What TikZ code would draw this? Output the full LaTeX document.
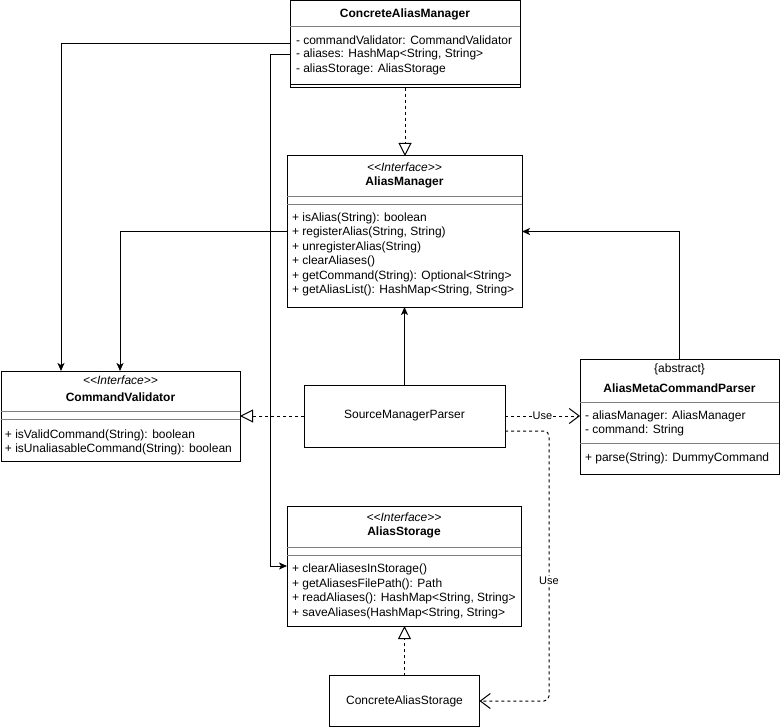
\documentclass[tikz,border=0pt]{standalone}
\usepackage{fontspec}
\setmainfont{Liberation Sans}
\usetikzlibrary{arrows.meta}
\begin{document}
\begin{tikzpicture}[x=1pt,y=-1pt,
 every node/.style={font=\fontsize{12}{14}\selectfont, inner sep=0pt, outer sep=0pt},
 cls/.style={draw, line width=1pt, fill=white, inner sep=0pt, outer sep=0pt},
 div/.style={draw=gray, line width=1pt},
 mem/.style={anchor=west},
 ttl/.style={font=\fontsize{12}{14}\selectfont\bfseries},
 ster/.style={font=\fontsize{12}{14}\selectfont\itshape},
 assoc/.style={draw, line width=1pt, -{Stealth[length=8pt,width=7pt,inset=2pt]}},
 real/.style={draw, line width=1pt, dash pattern=on 3pt off 3pt, -{Triangle[open,length=13pt,width=13pt]}},
 dep/.style={draw, line width=1pt, dash pattern=on 3pt off 3pt, -{Straight Barb[length=10pt,width=15pt]}},
 lbl/.style={fill=white, inner sep=1pt, font=\fontsize{11}{13}\selectfont}
]
\useasboundingbox (0,0) rectangle (781,727);

% ---------- classes ----------
\node[cls, minimum width=230pt, minimum height=87pt] (cam) at (405,44.5) {};
\draw[div] (cam.west |- 0,26.5) -- (cam.east |- 0,26.5);
\draw[line width=1pt] (cam.west |- 0,84.5) -- (cam.east |- 0,84.5);
\node[ttl] (camT) at (405,14) {ConcreteAliasManager};
\node[mem] (camF1) at (296,40) {- commandValidator: CommandValidator};
\node[mem] (camF2) at (296,54.5) {- aliases: HashMap<String, String>};
\node[mem] (camF3) at (296,69) {- aliasStorage: AliasStorage};

\node[cls, minimum width=235pt, minimum height=151pt] (am) at (404.5,231.5) {};
\draw[div] (am.west |- 0,196.5) -- (am.east |- 0,196.5);
\draw[div] (am.west |- 0,204.5) -- (am.east |- 0,204.5);
\node[ster] (amS) at (404.5,167) {<{}<Interface>{}>};
\node[ttl] (amT) at (404.5,182.5) {AliasManager};
\node[mem] (amM1) at (292,218) {+ isAlias(String): boolean};
\node[mem] (amM2) at (292,232.5) {+ registerAlias(String, String)};
\node[mem] (amM3) at (292,247) {+ unregisterAlias(String)};
\node[mem] (amM4) at (292,261.5) {+ clearAliases()};
\node[mem] (amM5) at (292,276) {+ getCommand(String): Optional<String>};
\node[mem] (amM6) at (292,290.5) {+ getAliasList(): HashMap<String, String>};

\node[cls, minimum width=239pt, minimum height=90pt] (cv) at (120.5,416) {};
\draw[div] (cv.west |- 0,411.5) -- (cv.east |- 0,411.5);
\draw[div] (cv.west |- 0,419.5) -- (cv.east |- 0,419.5);
\node[ster] (cvS) at (120.5,380.5) {<{}<Interface>{}>};
\node[ttl] (cvT) at (120.5,397) {CommandValidator};
\node[mem] (cvM1) at (5,435) {+ isValidCommand(String): boolean};
\node[mem] (cvM2) at (5,449) {+ isUnaliasableCommand(String): boolean};

\node[cls, minimum width=201pt, minimum height=62pt] (smp) at (404.5,416) {SourceManagerParser};

\node[cls, minimum width=199pt, minimum height=115pt] (amcp) at (679.5,416.5) {};
\draw[div] (amcp.west |- 0,402.5) -- (amcp.east |- 0,402.5);
\draw[div] (amcp.west |- 0,443) -- (amcp.east |- 0,443);
\node (amcpS) at (679.5,369) {\{abstract\}};
\node[ttl] (amcpT) at (679.5,388.5) {AliasMetaCommandParser};
\node[mem] (amcpF1) at (585,416) {- aliasManager: AliasManager};
\node[mem] (amcpF2) at (585,430) {- command: String};
\node[mem] (amcpM1) at (585,458) {+ parse(String): DummyCommand};

\node[cls, minimum width=234pt, minimum height=120pt] (as) at (404,566) {};
\draw[div] (as.west |- 0,547) -- (as.east |- 0,547);
\draw[div] (as.west |- 0,555) -- (as.east |- 0,555);
\node[ster] (asS) at (404,517.5) {<{}<Interface>{}>};
\node[ttl] (asT) at (404,532.5) {AliasStorage};
\node[mem] (asM1) at (292,569) {+ clearAliasesInStorage()};
\node[mem] (asM2) at (292,584) {+ getAliasesFilePath(): Path};
\node[mem] (asM3) at (292,598.5) {+ readAliases(): HashMap<String, String>};
\node[mem] (asM4) at (292,613) {+ saveAliases(HashMap<String, String>};

\node[cls, minimum width=150pt, minimum height=51pt] (cas) at (404.5,701) {ConcreteAliasStorage};

% ---------- connectors ----------
\coordinate (k1) at (61,44);
\coordinate (k2) at (270,55);
\coordinate (k3) at (549,431);
\coordinate (k4) at (549,701);

\draw[assoc] (cam.west |- k1) -| (cv.north -| k1);
\draw[assoc] (cam.west |- k2) -- (k2) |- (as.west);
\draw[assoc] (am.west) -| (cv.north -| 120,0);
\draw[assoc] (smp.north) -- (smp.north |- am.south);
\draw[assoc] (amcp.north) |- (am.east);

\draw[real] (cam.south -| 405,0) -- (am.north -| 405,0);
\draw[real] (smp.west) -- (cv.east);
\draw[real] (cas.north) -- (cas.north |- as.south);

\draw[dep] (smp.east) -- node[lbl] (use1) {Use} (amcp.west |- smp.east);
\draw[dep, rounded corners=5pt] (smp.east |- k3) -- (k3) -- (k4) -- (cas.east);
\node[lbl] (use2) at (549,581) {Use};
\end{tikzpicture}
\end{document}
